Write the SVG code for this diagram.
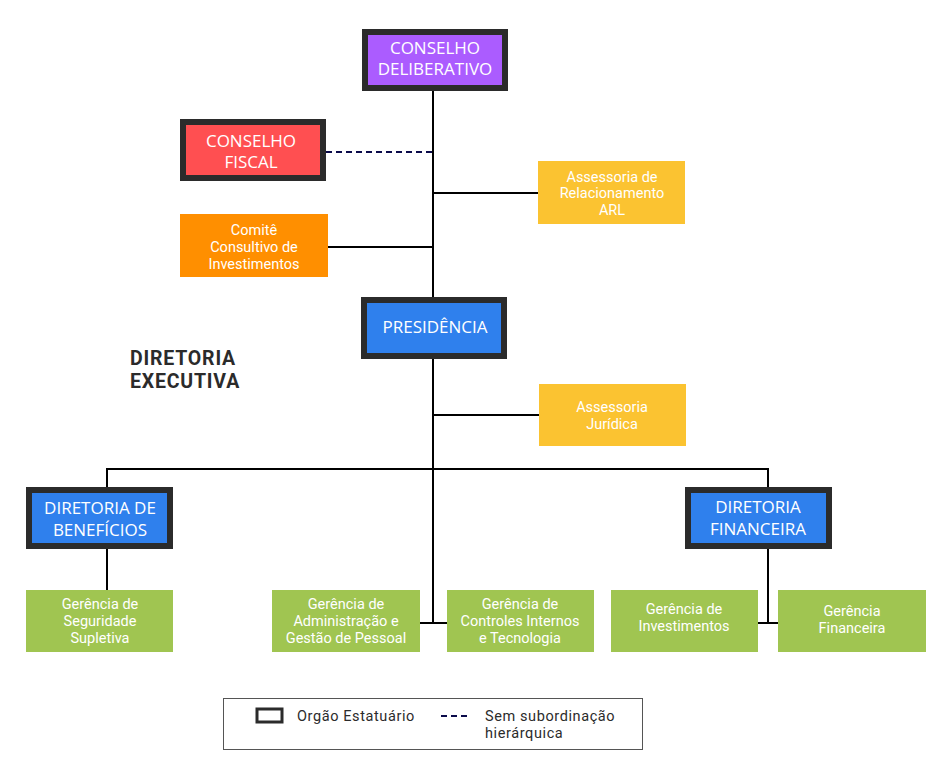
<svg xmlns="http://www.w3.org/2000/svg" width="950" height="777" viewBox="0 0 950 777">
<style>
text{font-family:Roboto,"Open Sans","Liberation Sans",sans-serif;font-size:14.5px;fill:#fff;text-anchor:middle}
.hd{font-family:"Open Sans","Noto Sans",sans-serif;font-size:17px}
.st{stroke:#2b2b2b;stroke-width:6}
.ln{stroke:#000;stroke-width:2;fill:none}
.dash{stroke:#0a0a4a;stroke-width:2;stroke-dasharray:6,4;fill:none}
.dk{fill:#2b2b2b;text-anchor:start}
.lg{letter-spacing:0.6px}
.de{font-weight:bold;font-size:19.5px;letter-spacing:0.8px}
</style>
<rect width="950" height="777" fill="#fff"/>
<g id="connectors">
<line class="ln" x1="433" y1="91" x2="433" y2="297"/>
<line class="ln" x1="433" y1="359" x2="433" y2="623"/>
<line class="dash" x1="326" y1="152" x2="433" y2="152"/>
<line class="ln" x1="433" y1="193" x2="538" y2="193"/>
<line class="ln" x1="328" y1="247" x2="433" y2="247"/>
<line class="ln" x1="433" y1="415" x2="539" y2="415"/>
<polyline class="ln" points="107,487 107,469 768,469 768,487"/>
<line class="ln" x1="107" y1="549" x2="107" y2="590"/>
<line class="ln" x1="768" y1="549" x2="768" y2="623"/>
<line class="ln" x1="420" y1="623" x2="447" y2="623"/>
<line class="ln" x1="758" y1="623" x2="778" y2="623"/>
</g>
<g id="conselho-deliberativo">
<rect class="st" x="365" y="32" width="140" height="56" fill="#ab5cff"/>
<text class="hd" x="435" y="54">CONSELHO</text><text class="hd" x="435" y="75">DELIBERATIVO</text>
</g>
<g id="conselho-fiscal">
<rect class="st" x="183" y="122" width="140" height="56" fill="#ff4f51"/>
<text class="hd" x="251" y="147">CONSELHO</text><text class="hd" x="251" y="168">FISCAL</text>
</g>
<g id="assessoria-arl">
<rect x="538" y="161" width="147" height="63" fill="#fbc331"/>
<text x="612" y="182">Assessoria de</text><text x="612" y="198">Relacionamento</text><text x="612" y="215">ARL</text>
</g>
<g id="comite">
<rect x="180" y="214" width="148" height="63" fill="#ff8f00"/>
<text x="254" y="235">Comitê</text><text x="254" y="252">Consultivo de</text><text x="254" y="269">Investimentos</text>
</g>
<g id="presidencia">
<rect class="st" x="364" y="300" width="140" height="56" fill="#2f80ed"/>
<text class="hd" x="435" y="333">PRESIDÊNCIA</text>
</g>
<g id="diretoria-executiva">
<text class="dk de" x="130" y="365">DIRETORIA</text>
<text class="dk de" x="130" y="388">EXECUTIVA</text>
</g>
<g id="assessoria-juridica">
<rect x="539" y="384" width="147" height="62" fill="#fbc331"/>
<text x="612" y="412">Assessoria</text><text x="612" y="429">Jurídica</text>
</g>
<g id="diretoria-beneficios">
<rect class="st" x="29" y="490" width="141" height="56" fill="#2f80ed"/>
<text class="hd" x="100" y="514">DIRETORIA DE</text><text class="hd" x="100" y="536">BENEFÍCIOS</text>
</g>
<g id="diretoria-financeira">
<rect class="st" x="688" y="490" width="141" height="56" fill="#2f80ed"/>
<text class="hd" x="758" y="513">DIRETORIA</text><text class="hd" x="758" y="535">FINANCEIRA</text>
</g>
<g id="ger-seguridade">
<rect x="26" y="590" width="147" height="62" fill="#a0c551"/>
<text x="100" y="609">Gerência de</text><text x="100" y="626">Seguridade</text><text x="100" y="643">Supletiva</text>
</g>
<g id="ger-administracao">
<rect x="272" y="590" width="148" height="62" fill="#a0c551"/>
<text x="346" y="609">Gerência de</text><text x="346" y="626">Administração e</text><text x="346" y="643">Gestão de Pessoal</text>
</g>
<g id="ger-controles">
<rect x="447" y="590" width="147" height="62" fill="#a0c551"/>
<text x="520" y="609">Gerência de</text><text x="520" y="626">Controles Internos</text><text x="520" y="643">e Tecnologia</text>
</g>
<g id="ger-investimentos">
<rect x="611" y="590" width="147" height="62" fill="#a0c551"/>
<text x="684" y="614">Gerência de</text><text x="684" y="631">Investimentos</text>
</g>
<g id="ger-financeira">
<rect x="778" y="590" width="148" height="62" fill="#a0c551"/>
<text x="852" y="616">Gerência</text><text x="852" y="633">Financeira</text>
</g>
<g id="legend">
<rect x="223.5" y="698.5" width="419" height="51" fill="#fff" stroke="#555" stroke-width="1"/>
<rect x="257" y="709" width="25" height="13" fill="#fff" stroke="#2b2b2b" stroke-width="3"/>
<text class="dk lg" x="297" y="721">Orgão Estatuário</text>
<line class="dash" x1="441" y1="716" x2="471" y2="716"/>
<text class="dk lg" x="485" y="721">Sem subordinação</text>
<text class="dk lg" x="485" y="738">hierárquica</text>
</g>
</svg>
